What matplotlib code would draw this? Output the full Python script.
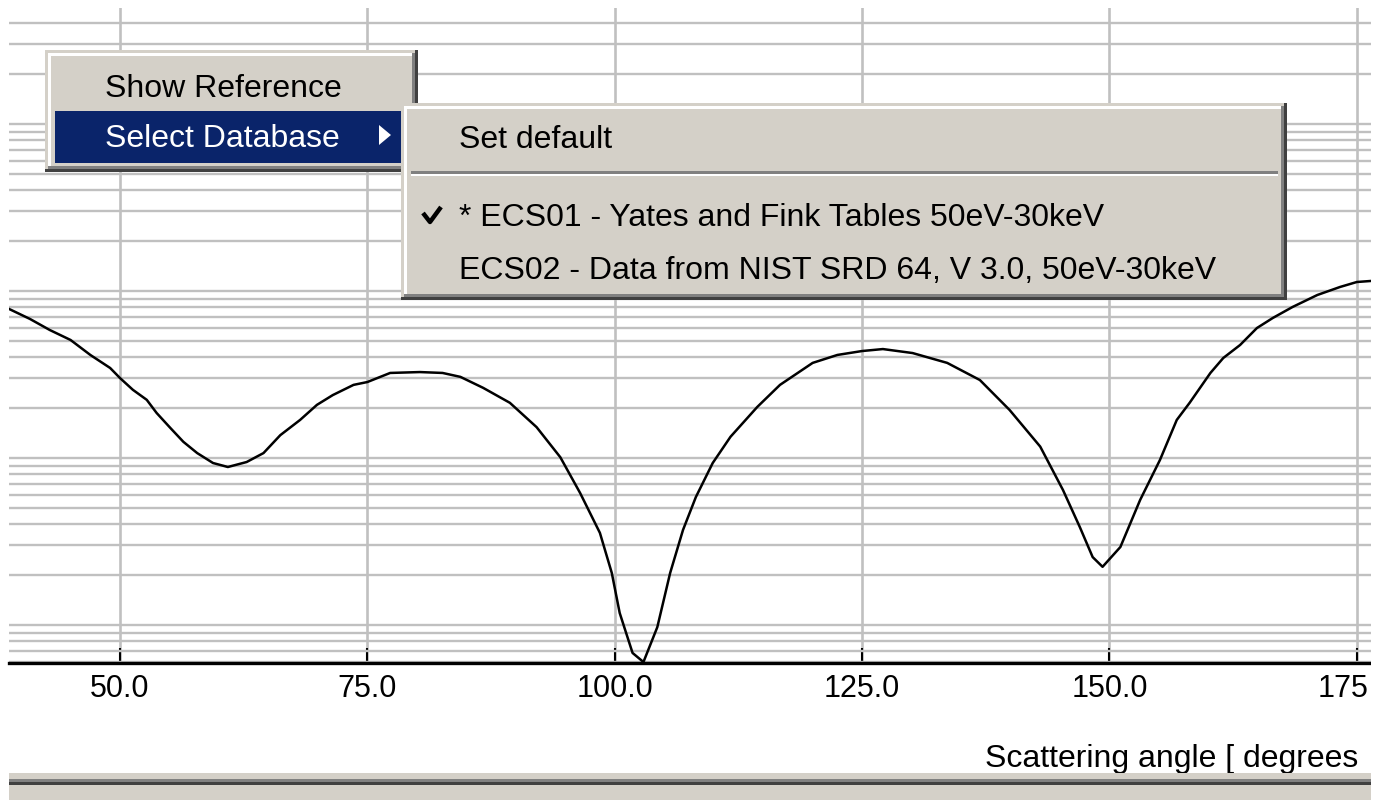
import matplotlib
matplotlib.use('Agg')
import matplotlib.pyplot as plt
from matplotlib.patches import Rectangle, Polygon
from matplotlib.ticker import LogLocator, NullFormatter
from matplotlib.transforms import ScaledTranslation

# curve (angle in degrees, cross section, arbitrary log units)
ANGLE = [38.8, 40.9, 42.9, 45.0, 47.0, 49.0, 50.0, 51.3, 52.7, 53.7, 55.1, 56.4, 57.8,
         59.4, 60.9, 62.8, 64.5, 66.2, 68.2, 69.9, 71.5, 73.6, 75.0, 77.3, 80.3, 82.6,
         84.4, 86.7, 89.4, 92.1, 94.5, 96.5, 98.5, 99.7, 100.5, 101.8, 102.9, 104.3,
         105.6, 106.9, 108.2, 109.9, 111.7, 114.4, 116.7, 120.0, 122.5, 125.0, 127.1,
         130.1, 133.6, 136.9, 139.9, 143.0, 145.3, 147.0, 148.3, 149.3, 151.1, 153.1,
         155.1, 156.8, 158.1, 160.2, 161.5, 163.2, 164.9, 166.5, 168.5, 171.0, 173.3,
         175.0, 176.4]
DCS = [0.780, 0.680, 0.584, 0.509, 0.414, 0.346, 0.301, 0.256, 0.223, 0.186, 0.151, 0.125,
       0.107, 0.0933, 0.0883, 0.0946, 0.107, 0.137, 0.169, 0.208, 0.238, 0.274, 0.285,
       0.323, 0.327, 0.323, 0.306, 0.263, 0.214, 0.153, 0.101, 0.0617, 0.0356, 0.0205,
       0.0118, 0.0068, 0.0060, 0.0097, 0.0205, 0.0371, 0.0584, 0.0933, 0.134, 0.202,
       0.274, 0.371, 0.414, 0.437, 0.449, 0.425, 0.371, 0.293, 0.194, 0.117, 0.0643,
       0.0386, 0.0255, 0.0223, 0.0293, 0.0561, 0.0973, 0.169, 0.214, 0.323, 0.397, 0.475,
       0.600, 0.689, 0.802, 0.946, 1.057, 1.132, 1.148]

XTICKS = [50, 75, 100, 125, 150, 175]
XTICK_LABELS = ['50.0', '75.0', '100.0', '125.0', '150.0', '175']
XLABEL = 'Scattering angle [ degrees'

MENU_ITEMS = ['Show Reference', 'Select Database']
SUBMENU_ITEMS = ['Set default', '* ECS01 - Yates and Fink Tables 50eV-30keV',
                 'ECS02 - Data from NIST SRD 64, V 3.0, 50eV-30keV']

W, H = 1384, 800
FACE = '#d4d0c8'
GRID = '#c0c0c0'
plt.rcParams['font.family'] = ['Liberation Sans', 'DejaVu Sans']

fig = plt.figure(figsize=(W / 100, H / 100), dpi=100)
ax = fig.add_axes([9 / W, (H - 663) / H, (1371 - 9) / W, (663 - 8) / H])
ax.plot(ANGLE, DCS, color='black', lw=1.8, zorder=3)
ax.set_yscale('log')
ax.set_xlim(38.78, 176.43)
ax.set_ylim(0.00592, 49.5)
ax.yaxis.set_major_locator(LogLocator(base=10))
ax.yaxis.set_minor_locator(LogLocator(base=10, subs=range(2, 10), numticks=50))
ax.yaxis.set_minor_formatter(NullFormatter())
ax.grid(axis='y', which='both', color=GRID, lw=1.7, zorder=1)
ax.grid(axis='x', which='major', color=GRID, lw=1.9, zorder=1)
ax.set_axisbelow(True)
ax.set_xticks(XTICKS)
ax.set_xticklabels(XTICK_LABELS, fontsize=22)
ax.tick_params(axis='x', direction='in', length=11, width=1.5, color='black', pad=8)
ax.tick_params(axis='y', which='both', length=0, labelleft=False)
# last label sits against the cropped edge, as in the screenshot
last = ax.get_xticklabels()[-1]
last.set_transform(last.get_transform() + ScaledTranslation(-0.14, 0, fig.dpi_scale_trans))
for s in ['top', 'left', 'right']:
    ax.spines[s].set_visible(False)
ax.spines['bottom'].set_linewidth(2.4)

# window chrome in pixel coordinates
ov = fig.add_axes([0, 0, 1, 1], zorder=10)
ov.set_xlim(0, W)
ov.set_ylim(H, 0)
ov.axis('off')
ov.patch.set_visible(False)


def box(x0, y0, x1, y1, color, z):
    ov.add_patch(Rectangle((x0, y0), x1 - x0, y1 - y0, color=color, lw=0, zorder=z))


def popup(x0, y0, x1, y1, z):
    box(x0, y0, x1, y1, '#404040', z)
    box(x0, y0, x1 - 3, y1 - 3, FACE, z)
    box(x0 + 3, y0 + 3, x1 - 3, y1 - 3, '#808080', z)
    box(x0 + 3, y0 + 3, x1 - 6, y1 - 6, 'white', z)
    box(x0 + 6, y0 + 6, x1 - 6, y1 - 6, FACE, z)


ov.text(1358, 767, XLABEL, ha='right', va='baseline', fontsize=23, zorder=2)
box(9, 773, 1371, 800, FACE, 3)
box(9, 779, 1371, 782, '#808080', 3)
box(9, 782, 1371, 785, '#404040', 3)

# main context menu
popup(45, 50, 418, 172, 4)
box(55, 111, 409, 163, '#0a246a', 4)
ov.text(105, 97, MENU_ITEMS[0], va='baseline', fontsize=23, color='black', zorder=4)
ov.text(105, 147, MENU_ITEMS[1], va='baseline', fontsize=23, color='white', zorder=4)
ov.add_patch(Polygon([(379, 125), (379, 145), (391, 135)], closed=True,
                     color='white', lw=0, zorder=4))

# submenu
popup(401, 103, 1287, 300, 5)
box(411, 171, 1278, 174, '#808080', 5)
box(411, 174, 1278, 176, 'white', 5)
ov.text(459, 148, SUBMENU_ITEMS[0], va='baseline', fontsize=23, zorder=5)
ov.text(459, 226, SUBMENU_ITEMS[1], va='baseline', fontsize=23, zorder=5)
ov.text(459, 279, SUBMENU_ITEMS[2], va='baseline', fontsize=23, zorder=5)
ov.plot([423, 430, 441], [213, 222, 207], color='black', lw=3.2,
        solid_capstyle='butt', zorder=5)

# screenshot crop on the right
box(1371, 0, W, H, 'white', 6)

fig.savefig('out.png', dpi=100)
